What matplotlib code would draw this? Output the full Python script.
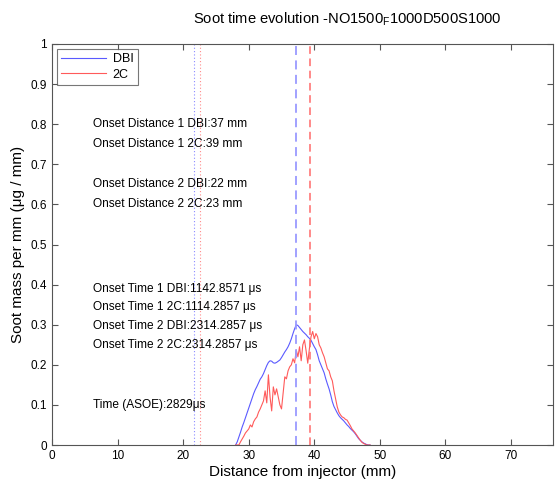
import matplotlib
matplotlib.use("Agg")
import matplotlib.pyplot as plt

plt.rcParams["font.family"] = ["Liberation Sans", "DejaVu Sans"]

# distance from injector (mm), sampling of both profiles
distance = [
    28.0, 28.25, 28.5, 28.75, 29.0, 29.25, 29.5, 29.75, 30.0, 30.25, 30.5, 30.75,
    31.0, 31.25, 31.5, 31.75, 32.0, 32.25, 32.5, 32.75, 33.0, 33.25, 33.5, 33.75,
    34.0, 34.25, 34.5, 34.75, 35.0, 35.25, 35.5, 35.75, 36.0, 36.25, 36.5, 36.75,
    37.0, 37.25, 37.5, 37.75, 38.0, 38.25, 38.5, 38.75, 39.0, 39.25, 39.5, 39.75,
    40.0, 40.25, 40.5, 40.75, 41.0, 41.25, 41.5, 41.75, 42.0, 42.25, 42.5, 42.75,
    43.0, 43.25, 43.5, 43.75, 44.0, 44.25, 44.5, 44.75, 45.0, 45.25, 45.5, 45.75,
    46.0, 46.25, 46.5, 46.75, 47.0, 47.25, 47.5, 47.75, 48.0, 48.25, 48.5,
]

soot_dbi = [
    0.0, 0.008, 0.02, 0.032, 0.045, 0.056, 0.068, 0.08, 0.092, 0.104, 0.116, 0.128,
    0.138, 0.146, 0.155, 0.164, 0.17, 0.178, 0.188, 0.198, 0.206, 0.21, 0.209, 0.205,
    0.204, 0.206, 0.209, 0.212, 0.218, 0.225, 0.232, 0.238, 0.245, 0.254, 0.265, 0.278,
    0.29, 0.3, 0.298, 0.293, 0.288, 0.283, 0.279, 0.275, 0.27, 0.266, 0.261, 0.253,
    0.245, 0.238, 0.225, 0.21, 0.2, 0.19, 0.18, 0.165, 0.152, 0.14, 0.125, 0.108,
    0.096, 0.088, 0.08, 0.073, 0.068, 0.064, 0.06, 0.055, 0.05, 0.046, 0.041, 0.037,
    0.033, 0.028, 0.022, 0.016, 0.012, 0.008, 0.005, 0.003, 0.001, 0.0, 0.0,
]

soot_2c = [
    0.0, 0.0, 0.0, 0.008, 0.015, 0.022, 0.03, 0.035, 0.04, 0.05, 0.045, 0.058,
    0.065, 0.07, 0.082, 0.09, 0.1, 0.11, 0.135, 0.105, 0.175, 0.12, 0.085, 0.145,
    0.125, 0.14, 0.12, 0.1, 0.09, 0.13, 0.17, 0.165, 0.185, 0.195, 0.2, 0.215,
    0.205, 0.237, 0.22, 0.245, 0.21, 0.25, 0.262, 0.235, 0.204, 0.24, 0.27, 0.283,
    0.265, 0.278, 0.27, 0.25, 0.242, 0.23, 0.22, 0.205, 0.19, 0.185, 0.17, 0.16,
    0.135, 0.115, 0.095, 0.082, 0.075, 0.07, 0.068, 0.064, 0.062, 0.055, 0.048, 0.04,
    0.035, 0.03, 0.024, 0.018, 0.012, 0.007, 0.004, 0.002, 0.0, 0.0, 0.0,
]

# onset markers (mm)
onset1_dbi, onset1_2c = 37.2, 39.4
onset2_dbi, onset2_2c = 21.7, 22.5

notes = [
    (0.80, "Onset Distance 1 DBI:37 mm"),
    (0.75, "Onset Distance 1 2C:39 mm"),
    (0.65, "Onset Distance 2 DBI:22 mm"),
    (0.60, "Onset Distance 2 2C:23 mm"),
    (0.39, "Onset Time 1 DBI:1142.8571 \u03bcs"),
    (0.345, "Onset Time 1 2C:1114.2857 \u03bcs"),
    (0.297, "Onset Time 2 DBI:2314.2857 \u03bcs"),
    (0.25, "Onset Time 2 2C:2314.2857 \u03bcs"),
    (0.10, "Time (ASOE):2829\u03bcs"),
]

fig = plt.figure(figsize=(5.55, 4.83), dpi=100)
ax = fig.add_axes([52 / 555, 38 / 483, 501 / 555, 401 / 483])

ax.plot(distance, soot_dbi, color="#5a5aff", lw=0.8, label="DBI")
ax.plot(distance, soot_2c, color="#ff5a5a", lw=0.8, label="2C")

ax.axvline(onset1_dbi, color="#9a9aff", ls=(0, (5, 3)), lw=1.3)
ax.axvline(onset1_2c, color="#ff6a6a", ls=(0, (5, 3)), lw=1.1)
ax.axvline(onset2_dbi, color="#8a8aff", ls=(0, (1, 2)), lw=0.8)
ax.axvline(onset2_2c, color="#ff8a8a", ls=(0, (1, 2)), lw=0.8)

for y, s in notes:
    ax.text(6.25, y, s, fontsize=8.6, va="center", ha="left")

ax.set_xlim(0, 76.4)
ax.set_ylim(0, 1)
ax.set_xticks(range(0, 80, 10))
ax.set_yticks([i / 10 for i in range(11)])
ax.set_yticklabels(["0", "0.1", "0.2", "0.3", "0.4", "0.5", "0.6", "0.7", "0.8", "0.9", "1"])
ax.tick_params(direction="in", top=True, right=True, labelsize=8.5, length=4,
               color="#555555", width=0.8)
for sp in ax.spines.values():
    sp.set_color("#555555")
    sp.set_linewidth(0.8)

ax.set_xlabel("Distance from injector (mm)", fontsize=11, labelpad=2)
ax.set_ylabel("Soot mass per mm (\u03bcg / mm)", fontsize=11, labelpad=4)
fig.text(347 / 555, 1 - 19 / 483,
         r"Soot time evolution -NO1500$_\mathregular{F}$1000D500S1000",
         fontsize=10.6, ha="center", va="center")

leg = ax.legend(loc="upper left", fontsize=9, frameon=True, fancybox=False,
                borderaxespad=0.4, handlelength=3.6, borderpad=0.35,
                labelspacing=0.25, handletextpad=0.5)
leg.get_frame().set_edgecolor("#555555")
leg.get_frame().set_linewidth(0.8)

fig.savefig("out.png", dpi=100)
